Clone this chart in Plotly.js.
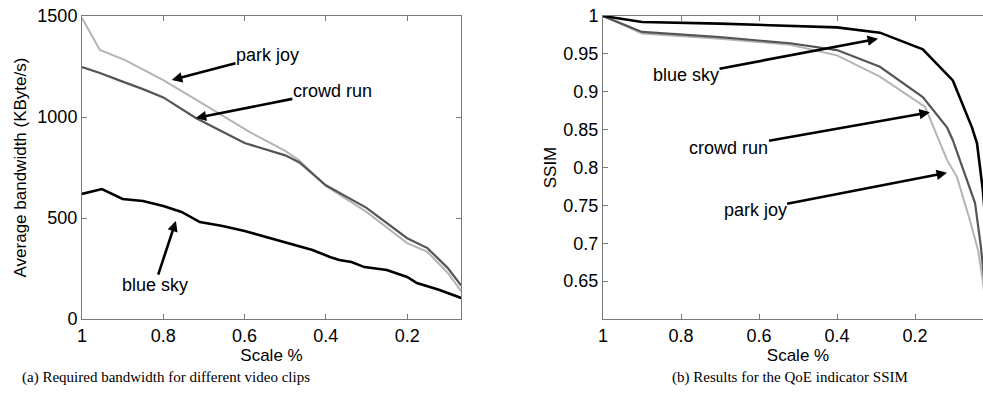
<!DOCTYPE html>
<html>
<head>
<meta charset="utf-8">
<script src="https://cdn.plot.ly/plotly-3.0.1.min.js"></script>
<style>
html,body{margin:0;padding:0;overflow:hidden;background:#fff;}
#chart{width:1000px;height:395px;}
</style>
</head>
<body>
<div id="chart"></div>
<script>
// ---- Data: (a) required bandwidth (KByte/s) vs scale ----
const bwParkJoyX  = [1, 0.956, 0.894, 0.8, 0.7, 0.588, 0.5, 0.465, 0.4, 0.3, 0.2, 0.15, 0.1, 0.067];
const bwParkJoyY  = [1490, 1332, 1282, 1183, 1062, 926, 832, 785, 658, 530, 376, 332, 228, 138];
const bwCrowdRunX = [1, 0.956, 0.9, 0.85, 0.8, 0.72, 0.6, 0.5, 0.465, 0.4, 0.3, 0.2, 0.15, 0.1, 0.067];
const bwCrowdRunY = [1247, 1218, 1175, 1138, 1097, 995, 871, 810, 775, 662, 550, 400, 351, 252, 165];
const bwBlueSkyX  = [1, 0.951, 0.9, 0.85, 0.8, 0.755, 0.71, 0.654, 0.6, 0.526, 0.433, 0.39, 0.367, 0.337, 0.305, 0.25, 0.2, 0.176, 0.12, 0.067];
const bwBlueSkyY  = [619, 643, 594, 584, 559, 530, 480, 460, 436, 396, 342, 307, 292, 282, 257, 243, 208, 178, 144, 104];

// ---- Data: (b) SSIM vs scale ----
const ssimBlueSkyX  = [1, 0.9, 0.7, 0.5, 0.4, 0.29, 0.18, 0.103, 0.054, 0.041, 0.026, 0.015];
const ssimBlueSkyY  = [1, 0.992, 0.990, 0.987, 0.985, 0.978, 0.956, 0.915, 0.853, 0.832, 0.77, 0.70];
const ssimCrowdRunX = [1, 0.9, 0.7, 0.52, 0.4, 0.29, 0.18, 0.118, 0.103, 0.067, 0.046, 0.031, 0.02];
const ssimCrowdRunY = [1, 0.979, 0.972, 0.964, 0.955, 0.933, 0.893, 0.853, 0.836, 0.783, 0.753, 0.695, 0.64];
const ssimParkJoyX  = [1, 0.9, 0.7, 0.52, 0.4, 0.29, 0.174, 0.118, 0.092, 0.059, 0.038, 0.026, 0.018];
const ssimParkJoyY  = [1, 0.977, 0.970, 0.962, 0.948, 0.92, 0.88, 0.81, 0.787, 0.73, 0.69, 0.65, 0.61];

// ---- Ticks / labels ----
const scaleTicks = [1, 0.8, 0.6, 0.4, 0.2];
const scaleTickText = ["1", "0.8", "0.6", "0.4", "0.2"];
const bwTicks = [0, 500, 1000, 1500];
const ssimTicks = [0.65, 0.7, 0.75, 0.8, 0.85, 0.9, 0.95, 1];
const ssimTickText = ["0.65", "0.7", "0.75", "0.8", "0.85", "0.9", "0.95", "1"];
const seriesNames = ["park joy", "crowd run", "blue sky"];
const captionA = "(a) Required bandwidth for different video clips";
const captionB = "(b) Results for the QoE indicator SSIM";

const W = 1000, H = 395;
const colPark = '#b4b4b4', colCrowd = '#555555', colBlue = '#000000';
const font = {family: 'Liberation Sans, Arial, sans-serif', size: 18, color: '#000'};

function line(x, y, name, color, width, xa, ya) {
  return {x: x, y: y, name: name, type: 'scatter', mode: 'lines',
          line: {color: color, width: width}, xaxis: xa, yaxis: ya, showlegend: false, hoverinfo: 'skip'};
}

const traces = [
  line(bwParkJoyX, bwParkJoyY, seriesNames[0], colPark, 2, 'x', 'y'),
  line(bwCrowdRunX, bwCrowdRunY, seriesNames[1], colCrowd, 2.2, 'x', 'y'),
  line(bwBlueSkyX, bwBlueSkyY, seriesNames[2], colBlue, 2.6, 'x', 'y'),
  line(ssimParkJoyX, ssimParkJoyY, seriesNames[0], colPark, 2, 'x2', 'y2'),
  line(ssimCrowdRunX, ssimCrowdRunY, seriesNames[1], colCrowd, 2.2, 'x2', 'y2'),
  line(ssimBlueSkyX, ssimBlueSkyY, seriesNames[2], colBlue, 2.6, 'x2', 'y2')
];

const axCommon = {
  showline: true, linecolor: '#7a7a7a', linewidth: 1, mirror: 'ticks',
  ticks: 'inside', ticklen: 5, tickcolor: '#7a7a7a', tickwidth: 1,
  showgrid: false, zeroline: false, tickfont: font, automargin: false, fixedrange: true
};

function px(v) { return v / W; }
function py(v) { return 1 - v / H; }

function arrow(text, xref, yref, hx, hy, tx, ty) {
  return {text: text, xref: xref, yref: yref, x: hx, y: hy, axref: xref, ayref: yref, ax: tx, ay: ty,
          showarrow: true, arrowhead: 2, arrowsize: 0.8, arrowwidth: 2.6, arrowcolor: '#000',
          font: {family: font.family, size: 18, color: '#000'}, borderpad: 0, standoff: 0};
}

const layout = {
  width: W, height: H,
  margin: {l: 0, r: 0, t: 0, b: 0},
  paper_bgcolor: '#fff', plot_bgcolor: '#fff',
  font: font,
  xaxis: Object.assign({}, axCommon, {
    domain: [px(82), px(461)], range: [1, 0.0675], anchor: 'y',
    tickvals: scaleTicks, ticktext: scaleTickText,
    title: {text: 'Scale %', font: {family: font.family, size: 17}, standoff: 4}
  }),
  yaxis: Object.assign({}, axCommon, {
    domain: [py(319), py(16)], range: [0, 1500], anchor: 'x',
    tickvals: bwTicks,
    title: {text: 'Average bandwidth (KByte/s)', font: {family: font.family, size: 17}, standoff: 6}
  }),
  xaxis2: Object.assign({}, axCommon, {
    domain: [px(603), px(993)], range: [1, 0], anchor: 'y2',
    tickvals: scaleTicks, ticktext: scaleTickText,
    title: {text: 'Scale %', font: {family: font.family, size: 17}, standoff: 4}
  }),
  yaxis2: Object.assign({}, axCommon, {
    domain: [py(319), py(16)], range: [0.6, 1], anchor: 'x2',
    tickvals: ssimTicks, ticktext: ssimTickText,
    title: {text: 'SSIM', font: {family: font.family, size: 17}, standoff: 2}
  }),
  annotations: [
    arrow(seriesNames[0], 'x', 'y', 0.779, 1183, 0.5436, 1307),
    arrow(seriesNames[1], 'x', 'y', 0.72, 995, 0.384, 1129),
    arrow(seriesNames[2], 'x', 'y', 0.769, 485, 0.821, 168),
    arrow(seriesNames[2], 'x2', 'y2', 0.295, 0.970, 0.787, 0.922),
    arrow(seriesNames[1], 'x2', 'y2', 0.162, 0.873, 0.677, 0.826),
    arrow(seriesNames[0], 'x2', 'y2', 0.118, 0.793, 0.610, 0.744),
    {text: captionA, xref: 'paper', yref: 'paper', x: px(166), y: py(377), showarrow: false,
     xanchor: 'center', yanchor: 'middle', font: {family: 'Liberation Serif, Times New Roman, serif', size: 15, color: '#000'}},
    {text: captionB, xref: 'paper', yref: 'paper', x: px(790), y: py(377), showarrow: false,
     xanchor: 'center', yanchor: 'middle', font: {family: 'Liberation Serif, Times New Roman, serif', size: 15, color: '#000'}}
  ]
};

Plotly.newPlot('chart', traces, layout, {staticPlot: true, displayModeBar: false});
</script>
</body>
</html>
